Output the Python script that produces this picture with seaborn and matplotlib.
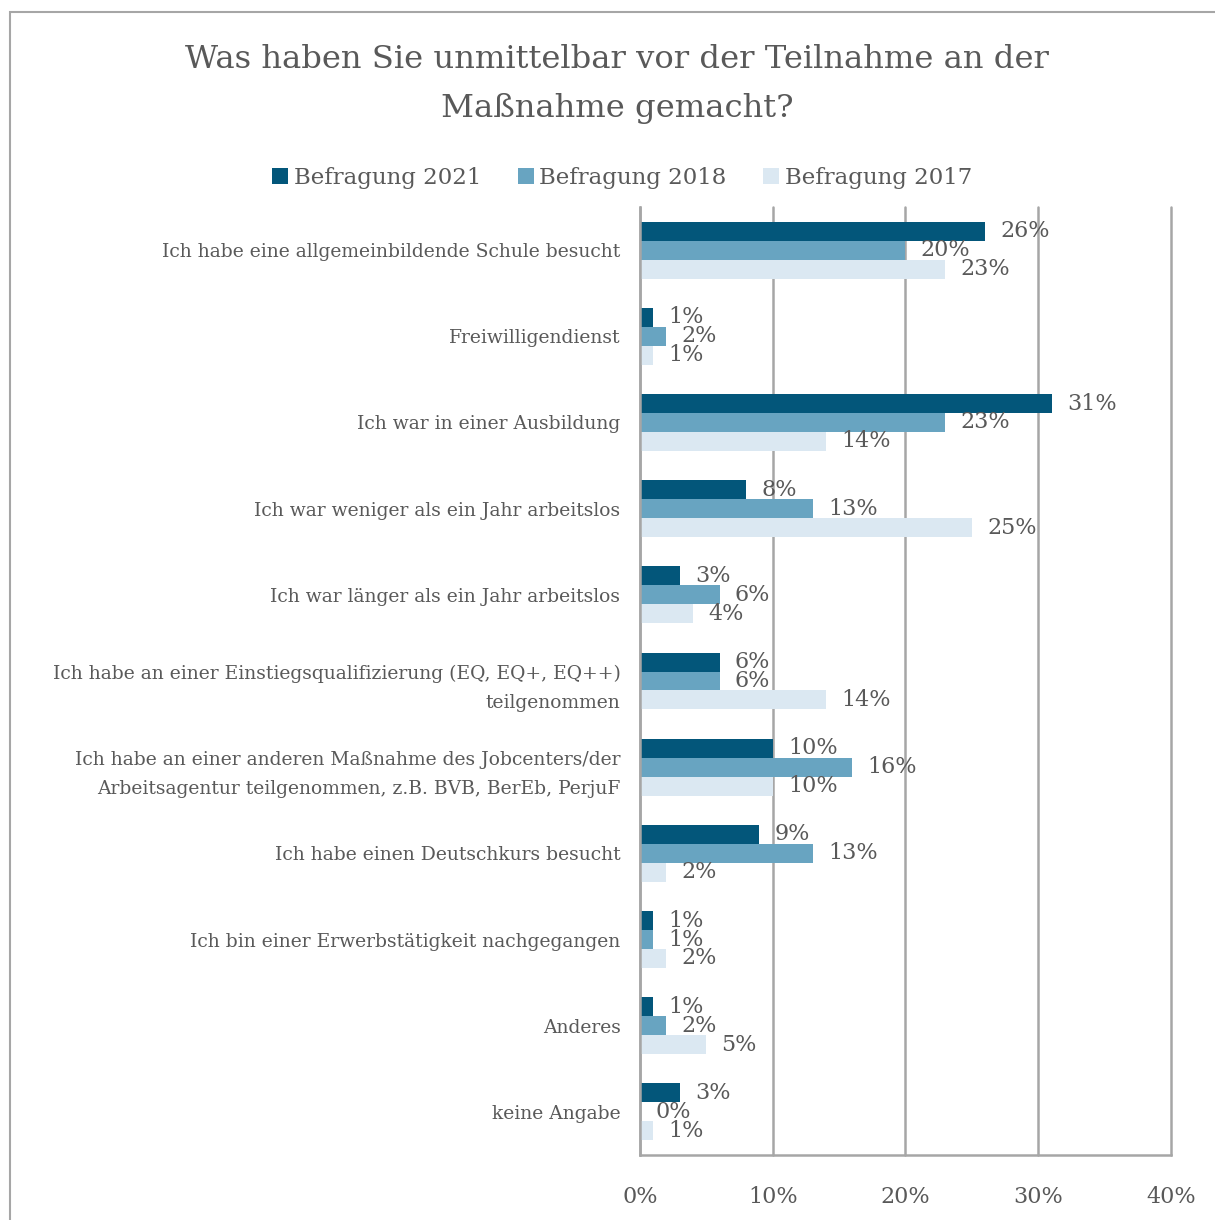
import pandas as pd
import matplotlib.pyplot as plt
import seaborn as sns
from matplotlib.patches import Rectangle, Patch

# Daten aus der Grafik
kategorien = [
    "Ich habe eine allgemeinbildende Schule besucht",
    "Freiwilligendienst",
    "Ich war in einer Ausbildung",
    "Ich war weniger als ein Jahr arbeitslos",
    "Ich war länger als ein Jahr arbeitslos",
    "Ich habe an einer Einstiegsqualifizierung (EQ, EQ+, EQ++)\nteilgenommen",
    "Ich habe an einer anderen Maßnahme des Jobcenters/der\nArbeitsagentur teilgenommen, z.B. BVB, BerEb, PerjuF",
    "Ich habe einen Deutschkurs besucht",
    "Ich bin einer Erwerbstätigkeit nachgegangen",
    "Anderes",
    "keine Angabe",
]
befragung_2021 = [26, 1, 31, 8, 3, 6, 10, 9, 1, 1, 3]
befragung_2018 = [20, 2, 23, 13, 6, 6, 16, 13, 1, 2, 0]
befragung_2017 = [23, 1, 14, 25, 4, 14, 10, 2, 2, 5, 1]
serien = ["Befragung 2021", "Befragung 2018", "Befragung 2017"]
farben = ["#03567A", "#68A4C1", "#DBE8F2"]
achsen_ticks = [0, 10, 20, 30, 40]

df = pd.DataFrame({
    "kategorie": kategorien * 3,
    "befragung": [serien[0]] * 11 + [serien[1]] * 11 + [serien[2]] * 11,
    "wert": befragung_2021 + befragung_2018 + befragung_2017,
})

sns.set_style("white")
plt.rcParams["font.family"] = ["DejaVu Serif"]
textfarbe = "#595959"
grau = "#A6A6A6"

fig = plt.figure(figsize=(12.15, 12.2), dpi=100)
ax = fig.add_axes([0.5267, 0.0533, 0.4371, 0.777])

sns.barplot(data=df, y="kategorie", x="wert", hue="befragung", orient="h",
            palette=farben, width=0.66, ax=ax, legend=False, saturation=1,
            linewidth=0)

for cont in ax.containers:
    ax.bar_label(cont, labels=[f"{v:.0f}%" for v in cont.datavalues],
                 padding=11, fontsize=16, color=textfarbe)

ax.set_xlim(0, 40)
ax.set_ylim(10.5, -0.5)
ax.set_xticks(achsen_ticks)
ax.set_xticklabels([f"{t}%" for t in achsen_ticks], fontsize=16, color=textfarbe)
ax.set_yticks([i for i in range(len(kategorien))])
ax.set_yticklabels(kategorien, fontsize=13.5, color=textfarbe, linespacing=1.8)
ax.set_xlabel("")
ax.set_ylabel("")
ax.xaxis.grid(True, color=grau, linewidth=1.8)
for gl in ax.get_xgridlines():
    gl.set_clip_on(False)
ax.set_axisbelow(True)

for s in ["top", "right"]:
    ax.spines[s].set_visible(False)
for s in ["left", "bottom"]:
    ax.spines[s].set_color(grau)
    ax.spines[s].set_linewidth(1.8)

# Ticks an den Kategoriegrenzen
ax.set_yticks([i - 0.5 for i in range(len(kategorien) + 1)], minor=True)
ax.tick_params(axis="y", which="major", length=0, pad=14)
ax.tick_params(axis="y", which="minor", length=6, width=1.8, color=grau, direction="out")
ax.tick_params(axis="x", which="major", length=8, width=1.8, color=grau, pad=14)

# Titel
fig.text(0.508, 0.951, "Was haben Sie unmittelbar vor der Teilnahme an der", ha="center",
         va="center", fontsize=23.2, color=textfarbe)
fig.text(0.508, 0.911, "Maßnahme gemacht?", ha="center", va="center",
         fontsize=23.2, color=textfarbe)

# Legende
handles = [Patch(facecolor=f, edgecolor="none") for f in farben]
fig.legend(handles, serien, loc="center", bbox_to_anchor=(0.512, 0.854), ncol=3,
           frameon=False, fontsize=16.5, labelcolor=textfarbe, handlelength=0.7,
           handleheight=0.7, handletextpad=0.25, columnspacing=1.6)

# Rahmen
fig.patches.append(Rectangle((10 / 1215, -0.1), 1.2, 1.1 - 12 / 1220,
                             transform=fig.transFigure, fill=False,
                             edgecolor=grau, linewidth=1.5))

fig.savefig("out.png", dpi=100)
